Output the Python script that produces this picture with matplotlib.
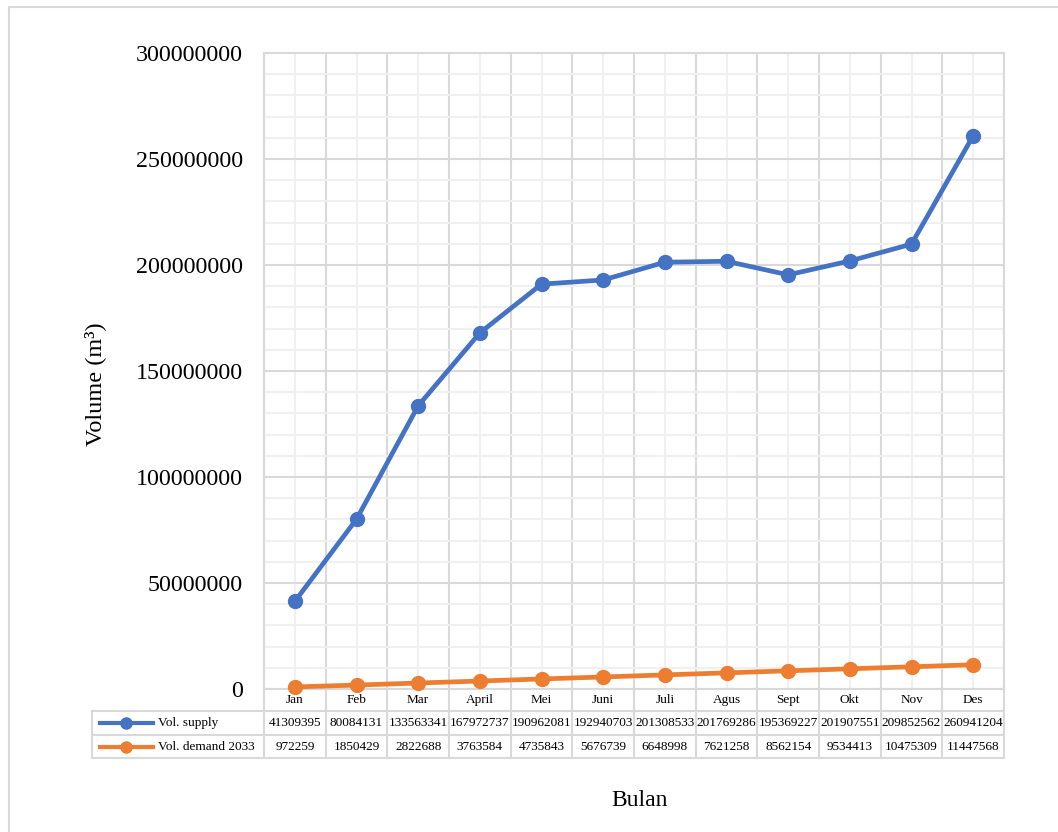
import matplotlib
matplotlib.use("Agg")
import matplotlib.pyplot as plt
import numpy as np
from matplotlib.lines import Line2D
from matplotlib.ticker import MultipleLocator

plt.rcParams['font.family'] = ['Liberation Serif', 'DejaVu Serif']

months = ["Jan", "Feb", "Mar", "April", "Mei", "Juni", "Juli", "Agus",
          "Sept", "Okt", "Nov", "Des"]
supply = [41309395, 80084131, 133563341, 167972737, 190962081, 192940703,
          201308533, 201769286, 195369227, 201907551, 209852562, 260941204]
demand = [972259, 1850429, 2822688, 3763584, 4735843, 5676739,
          6648998, 7621258, 8562154, 9534413, 10475309, 11447568]
series_names = ["Vol. supply", "Vol. demand 2033"]

blue = "#4472C4"
orange = "#ED7D31"
grid_major = "#D9D9D9"
grid_minor = "#F0F0F0"

fig = plt.figure(figsize=(10.58, 8.32), dpi=100)
ax = fig.add_axes([264 / 1058, 1 - 689 / 832, 740 / 1058, 636 / 832])

x = np.arange(len(months))
ax.plot(x, supply, color=blue, lw=3.4, marker="o", ms=10, zorder=5, clip_on=False)
ax.plot(x, demand, color=orange, lw=3.4, marker="o", ms=10, zorder=5, clip_on=False)

ax.set_xlim(-0.5, len(months) - 0.5)
ax.set_ylim(0, 300000000)
ax.yaxis.set_major_locator(MultipleLocator(50000000))
ax.yaxis.set_minor_locator(MultipleLocator(10000000))
ax.set_xticks(np.arange(-0.5, len(months), 1.0))
ax.set_xticks(x, minor=True)
ax.grid(which="major", color=grid_major, lw=1.5, zorder=0)
ax.grid(which="minor", color=grid_minor, lw=1.5, zorder=0)
ax.set_axisbelow(True)
ax.tick_params(which="both", length=0)
ax.tick_params(axis="x", which="both", labelbottom=False)
ax.tick_params(axis="y", labelsize=17.3, pad=15)
ax.ticklabel_format(axis="y", style="plain", useOffset=False)
for s in ax.spines.values():
    s.set_color(grid_major)
    s.set_linewidth(1.5)

ax.set_ylabel("Volume (m³)", fontsize=17.5)
ax.yaxis.set_label_coords(-0.213, 0.48)

# data table under the axes
tr = ax.get_xaxis_transform()
ta = ax.transAxes
h_head, h_r1, h_r2 = -22 / 636, -46 / 636, -69 / 636
left = -172 / 740
lk = dict(color=grid_major, lw=1.5, clip_on=False)
for b in np.arange(-0.5, len(months), 1.0):
    ax.plot([b, b], [0, h_r2], transform=tr, **lk)
ax.plot([left, left], [h_head, h_r2], transform=ta, **lk)
for yy in (h_head, h_r1, h_r2):
    ax.plot([left, 1], [yy, yy], transform=ta, **lk)

for i, m in enumerate(months):
    ax.text(i, h_head / 2, m, transform=tr, ha="center", va="center", fontsize=9.5)
    ax.text(i, (h_head + h_r1) / 2, str(supply[i]), transform=tr,
            ha="center", va="center", fontsize=9.5)
    ax.text(i, (h_r1 + h_r2) / 2, str(demand[i]), transform=tr,
            ha="center", va="center", fontsize=9.5)

for name, col, (y0, y1) in zip(series_names, [blue, orange],
                                [(h_head, h_r1), (h_r1, h_r2)]):
    yc = (y0 + y1) / 2
    ax.add_line(Line2D([-164 / 740, -111 / 740], [yc, yc], transform=ta,
                       color=col, lw=3, clip_on=False))
    ax.add_line(Line2D([-138 / 740], [yc], transform=ta, color=col, marker="o",
                       ms=8, clip_on=False))
    ax.text(-106 / 740, yc, name, transform=ta, ha="left", va="center",
            fontsize=9.5)

fig.text(640 / 1058, 1 - 800 / 832, "Bulan", ha="center", va="center", fontsize=17)

# outer chart frame
fig.add_artist(Line2D([9 / 1058, 9 / 1058, 1], [0, 1 - 7 / 832, 1 - 7 / 832],
                      transform=fig.transFigure, color=grid_major, lw=1.5))

fig.savefig("out.png", dpi=100)
